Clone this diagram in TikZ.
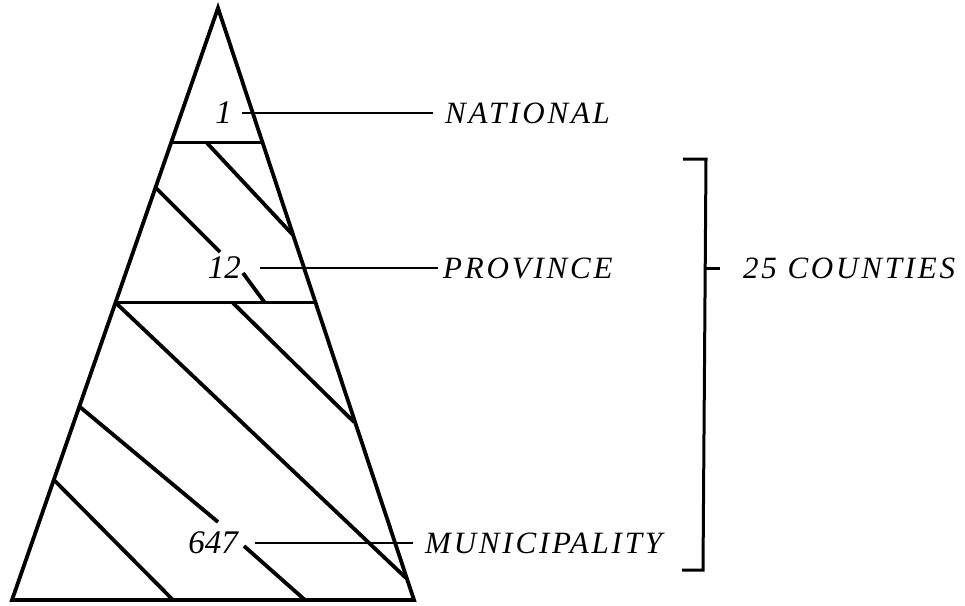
\documentclass[tikz,border=0pt]{standalone}
\usepackage{fontspec}
\setmainfont{Liberation Serif}
\newfontfamily\tierfont[LetterSpace=9]{Liberation Serif}
\usetikzlibrary{calc,positioning}
\newcommand{\hatchseg}[4]{%
  \draw[hatchline] (#1,#2)--(#3,#4);}

\begin{document}
\begin{tikzpicture}[x=1pt,y=-1pt,
  edge/.style={line width=3.8pt,line join=miter},
  hatchline/.style={line width=3.8pt},
  cut/.style={line width=3pt},
  lead/.style={line width=2.2pt},
  brace/.style={line width=3pt},
  tier/.style={inner sep=0pt,font=\tierfont\itshape\fontsize{31}{35}\selectfont},
  count/.style={inner sep=0pt,font=\itshape\fontsize{33}{37}\selectfont}]
  \useasboundingbox (0,0) rectangle (965,605);
  \coordinate (apex) at (218,8);
  \coordinate (bl) at (12,600);
  \coordinate (br) at (414,600);
  \draw[cut] ($(apex)!0.228!(bl)$)--($(apex)!0.228!(br)$);
  \draw[cut] ($(apex)!0.498!(bl)$)--($(apex)!0.498!(br)$);
  \hatchseg{207}{143}{293}{235}
  \hatchseg{156}{188}{220}{252}
  \hatchseg{243}{273}{265}{303}
  \hatchseg{233}{303}{354}{422}
  \hatchseg{116}{303}{406}{578}
  \hatchseg{80}{407}{218}{522}
  \hatchseg{244}{546}{305}{600}
  \hatchseg{54}{480}{173}{600}
  \draw[edge] (apex)--(br)--(bl)--cycle;
  \node[count,anchor=east] (n1) at (232,113) {1};
  \node[tier,anchor=west] (nat) at (445,113) {NATIONAL};
  \node[count,anchor=east] (n12) at (241,268) {12};
  \node[tier,anchor=west] (prov) at (443,268) {PROVINCE};
  \node[count,anchor=east] (n647) at (238,543) {647};
  \node[tier,anchor=west] (muni) at (425,543) {MUNICIPALITY};
  \draw[lead,shorten <=10pt,shorten >=12pt] (n1.east)--(nat.west);
  \draw[lead,shorten <=19pt,shorten >=5pt] (n12.east)--(prov.west);
  \draw[lead,shorten <=17pt,shorten >=12pt] (n647.east)--(muni.west);
  \coordinate (btopend) at (683,159);
  \coordinate (btop) at (706,159);
  \coordinate (bbot) at (703,570);
  \coordinate (bbotend) at (682,570);
  \coordinate (bmid) at (705,268);
  \node[tier,anchor=west] (counties) at (743,268) {25 COUNTIES};
  \draw[brace] (btopend)--(btop)--(bbot)--(bbotend);
  \draw[brace,shorten >=23pt] (bmid)--(counties.west);
\end{tikzpicture}
\end{document}
